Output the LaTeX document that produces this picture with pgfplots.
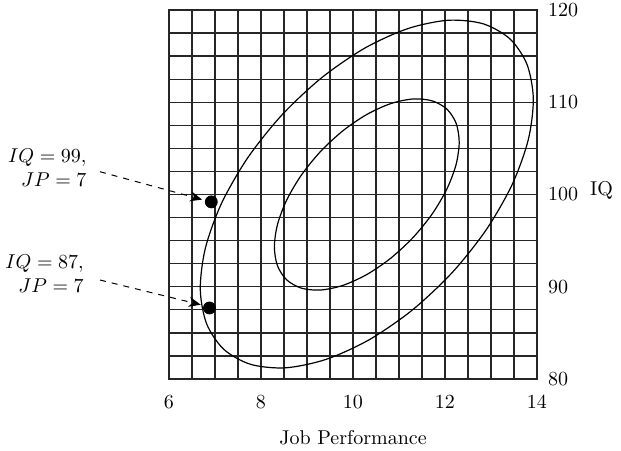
\documentclass[border=0pt]{standalone}
\usepackage{pgfplots}
\pgfplotsset{compat=1.18}
\usetikzlibrary{arrows.meta}

\begin{document}
\begin{tikzpicture}
\useasboundingbox (-84.5pt,-35.5pt) rectangle (226pt,189.5pt);
\begin{axis}[
    at={(0,0)}, anchor=south west,
    scale only axis, width=184pt, height=184.5pt,
    xmin=6, xmax=14, ymin=80, ymax=120,
    xtick={6,8,...,14}, minor xtick={6,6.5,...,14},
    ytick={80,90,...,120}, minor ytick={80,82.5,...,120},
    grid=both,
    major grid style={black!85, line width=0.65pt},
    minor grid style={black!85, line width=0.65pt},
    axis line style={black!85, line width=0.65pt},
    major tick length=0pt, minor tick length=0pt,
    yticklabel pos=right,
    xticklabel style={yshift=-5pt},
    yticklabel style={xshift=2pt},
    xlabel={Job Performance}, ylabel={IQ},
    every axis x label/.style={at={(axis description cs:0.5,0)}, anchor=north, yshift=-22pt},
    every axis y label/.style={at={(axis description cs:1,0.5)}, anchor=west, xshift=23pt, yshift=2pt},
    clip=false,
]
% outer ellipse
\addplot[black, line width=0.6pt, smooth cycle] coordinates {
(13.409,116.882) (12.823,118.513) (12.065,118.886) (11.187,117.975)
(10.248,115.844) (9.313,112.634) (8.445,108.569) (7.704,103.923)
(7.139,99.012) (6.790,94.172) (6.680,89.734) (6.817,85.997)
(7.191,83.218) (7.777,81.587) (8.535,81.214) (9.413,82.125)
(10.352,84.256) (11.287,87.466) (12.155,91.531) (12.896,96.177)
(13.461,101.088) (13.810,105.928) (13.920,110.366) (13.783,114.103)
};
% inner ellipse
\addplot[black, line width=0.6pt, smooth cycle] coordinates {
(12.042,109.252) (11.723,110.150) (11.308,110.356) (10.823,109.857)
(10.304,108.686) (9.784,106.923) (9.299,104.687) (8.882,102.133)
(8.562,99.433) (8.360,96.773) (8.291,94.332) (8.358,92.276)
(8.558,90.748) (8.877,89.850) (9.292,89.644) (9.777,90.143)
(10.296,91.314) (10.816,93.077) (11.301,95.313) (11.718,97.867)
(12.038,100.567) (12.240,103.227) (12.309,105.668) (12.242,107.724)
};
% the two people
\addplot[only marks, mark=*, mark size=3pt, black] coordinates {
(6.92,99.2) (6.88,87.7)
};

\node[anchor=east, align=right] at (axis cs:4.36,102.93) {$IQ = 99,$\\$JP = 7$};
\node[anchor=east, align=right] at (axis cs:4.30,91.44) {$IQ = 87,$\\$JP = 7$};
\draw[dashed, line width=0.5pt, -{Stealth[length=6pt,width=5pt]}] (axis cs:4.5,102.47) -- (axis cs:6.72,99.45);
\draw[dashed, line width=0.5pt, -{Stealth[length=6pt,width=5pt]}] (axis cs:4.5,90.73) -- (axis cs:6.69,88.05);
\end{axis}
\end{tikzpicture}
\end{document}
